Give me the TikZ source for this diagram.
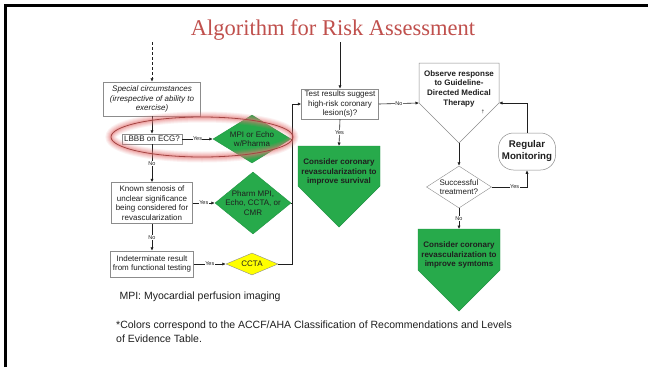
\documentclass[tikz,border=0pt]{standalone}
\usepackage{fontspec}
\setmainfont{Liberation Sans}
\newfontfamily\titlefont{Liberation Serif}
\usetikzlibrary{arrows.meta,shapes.geometric,calc}

\definecolor{titlered}{HTML}{C0504D}
\definecolor{rxgreen}{HTML}{27AA4B}
\definecolor{rxgreenedge}{HTML}{1F9442}
\definecolor{boxgray}{HTML}{8C8C8C}
\definecolor{ccyellow}{HTML}{FFFF00}
\definecolor{inkgray}{HTML}{1F1F1F}
\definecolor{glowred}{HTML}{E87878}

\tikzset{
  box/.style={draw=boxgray, line width=0.5pt, fill=white, align=center,
    font=\fontsize{8}{9.7}\selectfont, inner sep=1.5pt, text=inkgray},
  % diamonds take their size from minimum width/height only
  diabase/.style={diamond, inner sep=-8pt, align=center,
    font=\fontsize{8}{9.7}\selectfont, text=inkgray},
  gdia/.style={diabase, draw=rxgreenedge, fill=rxgreen},
  ydia/.style={diabase, draw=boxgray, fill=ccyellow},
  wdia/.style={diabase, draw=boxgray, fill=white},
  pent/.style={draw=rxgreenedge, fill=rxgreen, line width=0.4pt},
  penttext/.style={align=center, font=\bfseries\fontsize{8}{9.7}\selectfont, text=inkgray},
  conn/.style={draw=inkgray, line width=0.6pt, -{Latex[length=3.5pt,width=3.2pt]}},
  wire/.style={draw=inkgray, line width=0.6pt},
  lbl/.style={fill=white, inner sep=0.4pt, font=\fontsize{5.5}{6}\selectfont, text=inkgray},
}

\begin{document}
\begin{tikzpicture}[x=1pt,y=-1pt]
\useasboundingbox (0,0) rectangle (648,367);
\fill[white] (0,0) rectangle (648,367);

% slide frame
\draw[black, line width=2.5pt] (5.5,367) -- (5.5,5.5) -- (648,5.5);

% title
\node[font=\titlefont\fontsize{22.5}{24}\selectfont, text=titlered] (title) at (333,30) {Algorithm for Risk Assessment};

% entry points
\coordinate (dashtop) at (152,42);
\coordinate (testtop) at (340,42);

% left column
\node[box, minimum width=97pt, minimum height=34pt, font=\itshape\fontsize{8}{9.5}\selectfont] (special) at (152,99)
  {Special circumstances\\(irrespective of ability to\\exercise)};
\node[box, minimum width=60pt, minimum height=10pt, inner sep=1pt] (lbbb) at (152,139) {LBBB on ECG?};
\node[box, minimum width=81pt, minimum height=41pt] (known) at (152,203)
  {Known stenosis of\\unclear significance\\being considered for\\revascularization};
\node[box, minimum width=83pt, minimum height=26pt] (indet) at (152,264)
  {Indeterminate result\\from functional testing};

% test modality diamonds
\node[gdia, aspect=1.6, minimum width=78pt, minimum height=48pt] (mpi) at (252,139) {MPI or Echo\\w/Pharma};
\node[gdia, aspect=1.2, minimum width=76pt, minimum height=62pt] (pharm) at (253,203) {Pharm MPI,\\Echo, CCTA, or\\CMR};
\node[ydia, aspect=2.4, minimum width=52pt, minimum height=22pt] (ccta) at (252,264) {CCTA};

% collecting line into the result check
\coordinate (busbot) at (292,264);
\coordinate (bustop) at (292,104);

% middle column
\node[box, minimum width=77pt, minimum height=30pt] (test) at (340,104)
  {Test results suggest\\high-risk coronary\\lesion(s)?};

\path[pent] (298,146) -- (380,146) -- (380,186) -- (339,227) -- (298,186) -- cycle;
\coordinate (survT) at (339,146);
\node[penttext] (surv) at (339,172) {Consider coronary\\revascularization to\\improve survival};

% right column
\path[draw=boxgray, fill=white, line width=0.5pt] (419,63) -- (499,63) -- (499,103) -- (459,143) -- (419,103) -- cycle;
\coordinate (obsL) at (419,103);
\coordinate (obsR) at (499,103);
\coordinate (obsB) at (459,143);
\node[penttext] (obs) at (459,88.5) {Observe response\\to Guideline-\\Directed Medical\\Therapy};
\node[font=\fontsize{5}{5}\selectfont, text=inkgray] (dagger) at (483,112) {†};

\node[wdia, aspect=1.55, minimum width=65pt, minimum height=42pt] (succ) at (459,187) {Successful\\treatment?};

\node[draw=boxgray, fill=white, line width=0.5pt, rounded corners=15pt, minimum width=57pt,
  minimum height=37pt, align=center, inner sep=1pt,
  font=\bfseries\fontsize{9.7}{12}\selectfont, text=inkgray] (rm) at (527,151.5) {Regular\\Monitoring};

\path[pent] (418,229) -- (500,229) -- (500,270) -- (459,311) -- (418,270) -- cycle;
\coordinate (symT) at (459,229);
\node[penttext] (sym) at (459,255) {Consider coronary\\revascularization to\\improve symtoms};

% connectors: left column
\draw[conn, dashed, dash pattern=on 3pt off 2pt] (dashtop) -- (special.north);
\draw[conn] (special.south) -- (lbbb.north);
\draw[conn] (lbbb.east) -- node[lbl]{Yes} (mpi.west);
\draw[conn] (lbbb.south) -- node[lbl]{No} (known.north);
\draw[conn] (known.east) -- node[lbl]{Yes} (pharm.west);
\draw[conn] (known.south) -- node[lbl]{No} (indet.north);
\draw[conn] (indet.east) -- node[lbl]{Yes} (ccta.west);

% connectors: into the result check
\draw[wire] (ccta.east) -- (busbot) -- (bustop);
\draw[wire] (pharm.east) -- (pharm.east -| busbot);
\draw[wire] (mpi.east) -- (mpi.east -| busbot);
\draw[conn] (bustop) -- (test.west);
\draw[conn] (testtop) -- (test.north);
\draw[conn] (test.south) -- node[lbl]{Yes} (survT);
\draw[conn] (test.east) -- node[lbl]{No} (obsL);

% connectors: right column
\draw[conn] (obsB) -- (succ.north);
\draw[conn] (succ.east) -- node[lbl, pos=0.65]{Yes} (succ.east -| rm.south) -- (rm.south);
\draw[conn] (rm.north) |- (obsR);
\draw[conn] (succ.south) -- node[lbl]{No} (symT);

% highlight ring round the LBBB branch
\foreach \w/\o in {11/0.1, 9/0.12, 7/0.15, 5/0.2, 3/0.28}
  \draw[glowred, line width=\w pt, opacity=\o] (202,137) ellipse [x radius=91, y radius=20];
\draw[titlered!85!black, line width=0.8pt] (202,137) ellipse [x radius=91, y radius=20];

% footnotes
\node[anchor=base west, font=\fontsize{10.5}{14}\selectfont, text=inkgray] (fn1) at (116,299)
  {MPI: Myocardial perfusion imaging};
\node[anchor=north west, align=left, inner sep=0pt, font=\fontsize{10.5}{14}\selectfont, text=inkgray] (fn2) at (116,321)
  {*Colors correspond to the ACCF/AHA Classification of Recommendations and Levels\\of Evidence Table.};
\end{tikzpicture}
\end{document}
